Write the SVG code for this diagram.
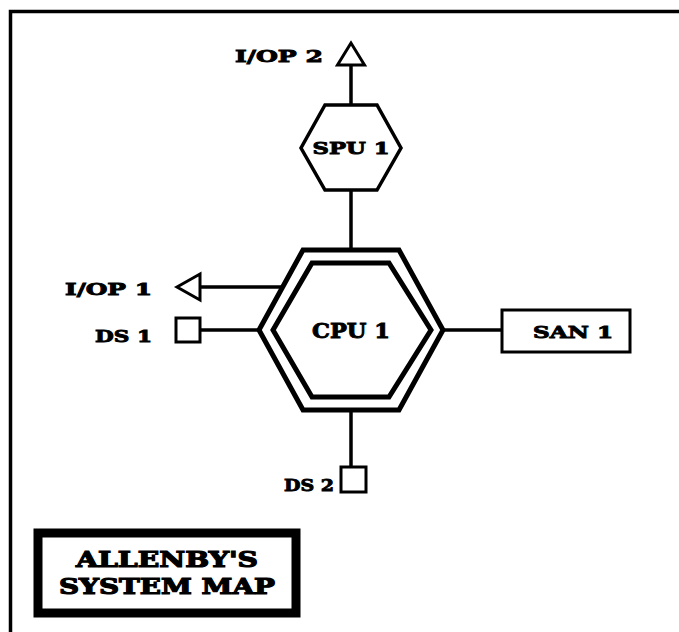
<svg xmlns="http://www.w3.org/2000/svg" width="679" height="632" viewBox="0 0 679 632">
<style>
.ln{stroke:#000;stroke-width:3.5;fill:none}
.sh{stroke:#000;fill:#fff}
.t{font-family:"DejaVu Serif","Liberation Serif",serif;font-weight:bold;fill:#000;stroke:#000;stroke-width:0.9;font-size:17px}
.c{text-anchor:middle}
.ti{font-size:22px;stroke-width:1.2}
</style>
<rect width="679" height="632" fill="#fff"/>
<g id="frame"><path d="M10.5,632 V11.5 H679" class="ln" stroke-width="3"/></g>
<g id="connectors">
<line x1="351" y1="65" x2="351" y2="105" class="ln"/>
<line x1="351" y1="190" x2="351" y2="250" class="ln"/>
<line x1="200" y1="287" x2="284" y2="287" class="ln"/>
<line x1="200" y1="330" x2="259" y2="330" class="ln"/>
<line x1="443" y1="330" x2="502" y2="330" class="ln"/>
<line x1="351" y1="410" x2="351" y2="467" class="ln"/>
</g>
<g id="iop2"><polygon points="351,43 337.5,65 364.5,65" class="sh" stroke-width="3"/><text x="235" y="62" class="t" textLength="88" lengthAdjust="spacingAndGlyphs">I/OP 2</text></g>
<g id="spu1"><polygon points="325,105 377,105 401,148 377,190 325,190 301,148" class="sh" stroke-width="3.5"/><text x="351" y="154" class="t c" textLength="77" lengthAdjust="spacingAndGlyphs">SPU 1</text></g>
<g id="cpu1"><polygon points="303,250 399,250 443,330 399,410 303,410 259,330" class="sh" stroke-width="5"/><polygon points="312,263 389,263 431,330 389,397 312,397 273,330" class="sh" stroke-width="5"/><text x="351" y="338" class="t c" textLength="78" lengthAdjust="spacingAndGlyphs" style="font-size:20px">CPU 1</text></g>
<g id="iop1"><polygon points="177,287 200,274 200,300" class="sh" stroke-width="3"/><text x="65" y="295" class="t" textLength="87" lengthAdjust="spacingAndGlyphs">I/OP 1</text></g>
<g id="ds1"><rect x="176" y="318" width="24" height="24" class="sh" stroke-width="3"/><text x="95" y="342" class="t" textLength="57" lengthAdjust="spacingAndGlyphs">DS 1</text></g>
<g id="san1"><rect x="502" y="310" width="128" height="42" class="sh" stroke-width="3"/><text x="573" y="338" class="t c" textLength="80" lengthAdjust="spacingAndGlyphs">SAN 1</text></g>
<g id="ds2"><rect x="341" y="467" width="25" height="25" class="sh" stroke-width="3"/><text x="284" y="491" class="t" textLength="50" lengthAdjust="spacingAndGlyphs">DS 2</text></g>
<g id="title"><rect x="38" y="533" width="258" height="80" class="sh" stroke-width="9"/><text x="167" y="567" class="t c ti" textLength="182" lengthAdjust="spacingAndGlyphs">ALLENBY'S</text><text x="167" y="594" class="t c ti" textLength="216" lengthAdjust="spacingAndGlyphs">SYSTEM MAP</text></g>
</svg>
